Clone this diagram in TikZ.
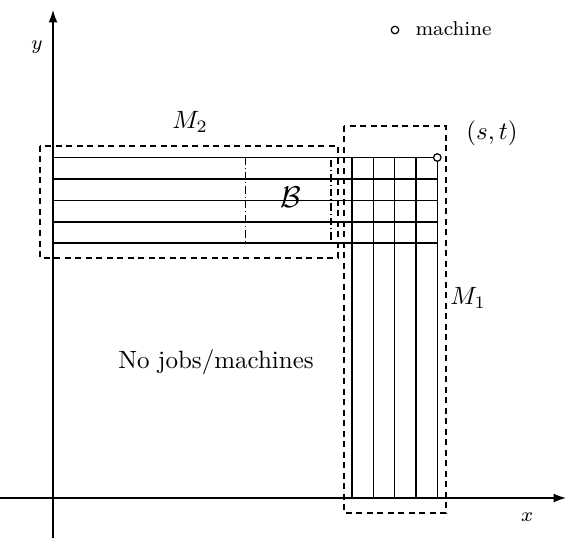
\documentclass[tikz,border=0pt]{standalone}
\usetikzlibrary{arrows.meta}
\begin{document}
\begin{tikzpicture}[x=0.4pt,y=-0.4pt,
  grid/.style={line width=0.45pt},
  axis/.style={line width=0.5pt,-{Latex[length=5pt,width=3.6pt]}},
  region/.style={line width=0.45pt,dash pattern=on 2.4pt off 1.8pt},
  bbox/.style={line width=0.45pt,dash pattern=on 3pt off 1.2pt on 0.4pt off 1.2pt},
  lbl/.style={inner sep=0pt}]
\useasboundingbox (0,0) rectangle (574,539);
% axes
\coordinate (xs) at (0,498);
\coordinate (xe) at (566,498);
\coordinate (ys) at (53,538);
\coordinate (ye) at (53,10);
\draw[axis] (xs) -- (xe);
\draw[axis] (ys) -- (ye);
\node[lbl] (xl) at (527,517) {\footnotesize $x$};
\node[lbl] (yl) at (37,47) {\footnotesize $y$};
% horizontal lines (machines M2)
\foreach \yy in {157.5,179,200.5,222,243}
  \draw[grid] (53,\yy) -- (437,\yy);
% vertical lines (machines M1)
\foreach \xx in {352,373.3,394.7,416,437.3}
  \draw[grid] (\xx,157.5) -- (\xx,498);
% regions
\draw[region] (40,146) rectangle (338,258);
\draw[region] (344,126) rectangle (446,513);
\draw[bbox] (245.5,157.5) rectangle (331,243);
% point (s,t)
\node[draw,circle,line width=0.5pt,minimum size=3pt,inner sep=0pt,fill=white] (st) at (437.3,157.5) {};
\node[lbl] (stl) at (492,133) {$(s,t)$};
% labels
\node[lbl] (m2) at (190,122) {$M_2$};
\node[lbl] (m1) at (468,298) {$M_1$};
\node[lbl] (B) at (291,197) {\large $\mathcal{B}$};
\node[lbl] (nj) at (216,362) {No jobs/machines};
% legend
\node[draw,circle,line width=0.5pt,minimum size=3pt,inner sep=0pt] (lc) at (395,30) {};
\node[lbl,anchor=west] (lt) at (415,29) {\footnotesize machine};
\end{tikzpicture}
\end{document}
